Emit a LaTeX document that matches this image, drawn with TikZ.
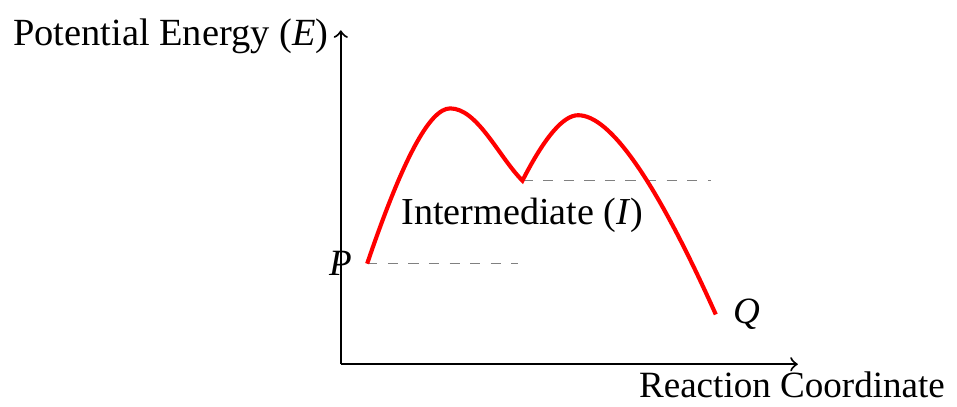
\documentclass[tikz,border=0pt]{standalone}
\usepackage{fontspec}
\setmainfont{Liberation Serif}
\usetikzlibrary{positioning}

\begin{document}
\begin{tikzpicture}[
  axis/.style={->, semithick},
  level/.style={gray, dashed, thin},
  path/.style={red, very thick},
  lbl/.style={inner sep=2pt, font=\fontsize{10.8}{13}\selectfont}
]
  \useasboundingbox (-3.49,-0.43) rectangle (6.31,3.73);

  % axes
  \coordinate (O) at (0,0);
  \coordinate (ytop) at (0,3.42);
  \coordinate (xend) at (4.68,0);
  \draw[axis] (O) -- (ytop);
  \draw[axis] (O) -- (xend);
  \node[lbl, left=0.05cm of ytop, yshift=-0.06cm, font=\fontsize{11.2}{13}\selectfont] (ylab) {Potential Energy (\textit{E})};
  \node[lbl, below=0.0cm of xend, xshift=-0.06cm] (xlab) {Reaction Coordinate};

  % energy profile
  \coordinate (P) at (0.27,1.03);
  \coordinate (T1) at (1.12,2.62);
  \coordinate (I) at (1.86,1.88);
  \coordinate (T2) at (2.43,2.55);
  \coordinate (Q) at (3.84,0.51);
  \coordinate (Pend) at (1.81,1.03);
  \coordinate (Iend) at (3.79,1.88);

  \draw[level] (P) -- (Pend);
  \draw[level] (I) -- (Iend);

  \draw[path] (P) .. controls (0.63,2.09) and (0.91,2.62) .. (T1)
              .. controls (1.40,2.62) and (1.62,2.12) .. (I)
              .. controls (2.09,2.33) and (2.28,2.55) .. (T2)
              .. controls (2.76,2.55) and (3.23,1.87) .. (Q);

  \node[lbl, left=0.08cm of P] (Plab) {\textit{P}};
  \node[lbl, right=0.1cm of Q] (Qlab) {\textit{Q}};
  \node[lbl, below=0.1cm of I, font=\fontsize{11.1}{13}\selectfont] (Ilab) {Intermediate (\textit{I})};
\end{tikzpicture}
\end{document}
